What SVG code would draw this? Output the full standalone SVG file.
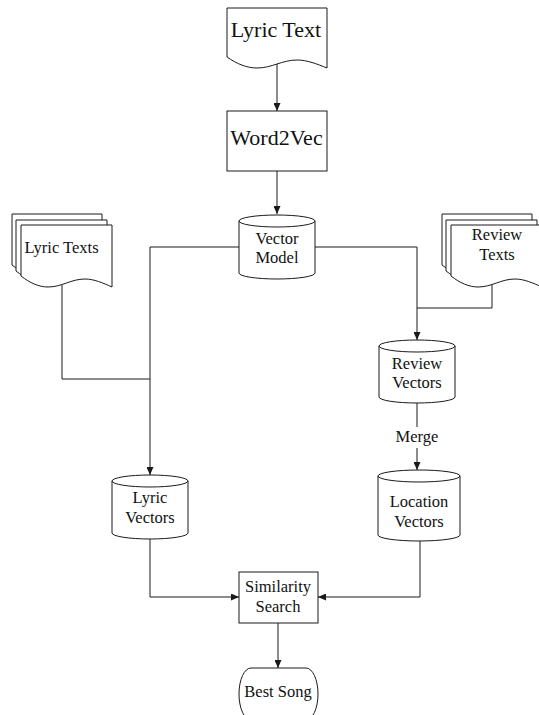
<svg xmlns="http://www.w3.org/2000/svg" width="539" height="715" viewBox="0 0 539 715">
<style>
.s{fill:#fff;stroke:#1a1a1a;stroke-width:1}
.c{fill:none;stroke:#1a1a1a;stroke-width:1}
text{font-family:"Liberation Serif","Times New Roman",serif;fill:#111;text-anchor:middle}
.big{font-size:22px}
.t{font-size:16.5px}
</style>
<defs>
<marker id="arr" markerUnits="userSpaceOnUse" markerWidth="8" markerHeight="7" refX="8" refY="3.5" orient="auto">
<path d="M0,0 L8,3.5 L0,7 Z" fill="#1a1a1a"/>
</marker>
</defs>
<rect width="539" height="715" fill="#fff"/>
<g id="connectors">
<path class="c" d="M277,64 V111" marker-end="url(#arr)"/>
<path class="c" d="M277,171 V214" marker-end="url(#arr)"/>
<path class="c" d="M239,247 H150 V475" marker-end="url(#arr)"/>
<path class="c" d="M62,285 V379 H150"/>
<path class="c" d="M315,247 H417 V340" marker-end="url(#arr)"/>
<path class="c" d="M492,283 V308 H417"/>
<path class="c" d="M417,403 V427"/>
<path class="c" d="M417,448 V470" marker-end="url(#arr)"/>
<path class="c" d="M150,539 V597 H239" marker-end="url(#arr)"/>
<path class="c" d="M420,541 V597 H318" marker-end="url(#arr)"/>
<path class="c" d="M278,623 V668" marker-end="url(#arr)"/>
<text class="t" x="417" y="442">Merge</text>
</g>
<g id="lyric-text">
<path class="s" d="M227,8 H327 V68 C317,64 307,60 297,60 C282,60 272,68 257,68 C247,68 237,64 227,57 Z"/>
<text class="big" x="276" y="37">Lyric Text</text>
</g>
<g id="word2vec">
<rect class="s" x="227" y="111" width="100" height="60"/>
<text class="big" x="276.5" y="145">Word2Vec</text>
</g>
<g id="vector-model">
<path class="s" d="M239,221 A38,6 0 0 1 315,221 V273 A38,6 0 0 1 239,273 Z"/>
<path class="c" d="M239,221 A38,6 0 0 0 315,221"/>
<text class="t" x="277" y="244">Vector</text>
<text class="t" x="277" y="263">Model</text>
</g>
<g id="lyric-texts">
<path class="s" d="M12,214 H102 V276 C93,272 84,268 75,268 C61,268 52,276 39,276 C30,276 21,272 12,265 Z"/>
<path class="s" d="M16,220 H107 V282 C98,278 89,274 80,274 C66,274 57,282 43,282 C34,282 25,278 16,271 Z"/>
<path class="s" d="M21,225 H112 V287 C103,283 94,279 85,279 C71,279 62,287 48,287 C39,287 30,283 21,276 Z"/>
<text class="t" x="61.5" y="253">Lyric Texts</text>
</g>
<g id="review-texts">
<path class="s" d="M442,214 H532 V276 C523,272 514,268 505,268 C491,268 482,276 469,276 C460,276 451,272 442,265 Z"/>
<path class="s" d="M446,220 H537 V282 C528,278 519,274 510,274 C496,274 487,282 473,282 C464,282 455,278 446,271 Z"/>
<path class="s" d="M451,225 H542 V287 C533,283 524,279 515,279 C501,279 492,287 478,287 C469,287 460,283 451,276 Z"/>
<text class="t" x="497" y="240">Review</text>
<text class="t" x="497" y="260">Texts</text>
</g>
<g id="review-vectors">
<path class="s" d="M379,346 A38,6 0 0 1 455,346 V397 A38,6 0 0 1 379,397 Z"/>
<path class="c" d="M379,346 A38,6 0 0 0 455,346"/>
<text class="t" x="417" y="369">Review</text>
<text class="t" x="417" y="388">Vectors</text>
</g>
<g id="lyric-vectors">
<path class="s" d="M112,481 A38,6 0 0 1 188,481 V533 A38,6 0 0 1 112,533 Z"/>
<path class="c" d="M112,481 A38,6 0 0 0 188,481"/>
<text class="t" x="150" y="503">Lyric</text>
<text class="t" x="150" y="523">Vectors</text>
</g>
<g id="location-vectors">
<path class="s" d="M378,476 A41,6 0 0 1 460,476 V535 A41,6 0 0 1 378,535 Z"/>
<path class="c" d="M378,476 A41,6 0 0 0 460,476"/>
<text class="t" x="419" y="507">Location</text>
<text class="t" x="419" y="527">Vectors</text>
</g>
<g id="similarity-search">
<rect class="s" x="239" y="572" width="79" height="51"/>
<text class="t" x="278" y="592">Similarity</text>
<text class="t" x="278" y="612">Search</text>
</g>
<g id="best-song">
<rect class="s" x="239" y="668" width="79" height="52" rx="12" ry="26"/>
<text class="t" x="278" y="697">Best Song</text>
</g>
</svg>
